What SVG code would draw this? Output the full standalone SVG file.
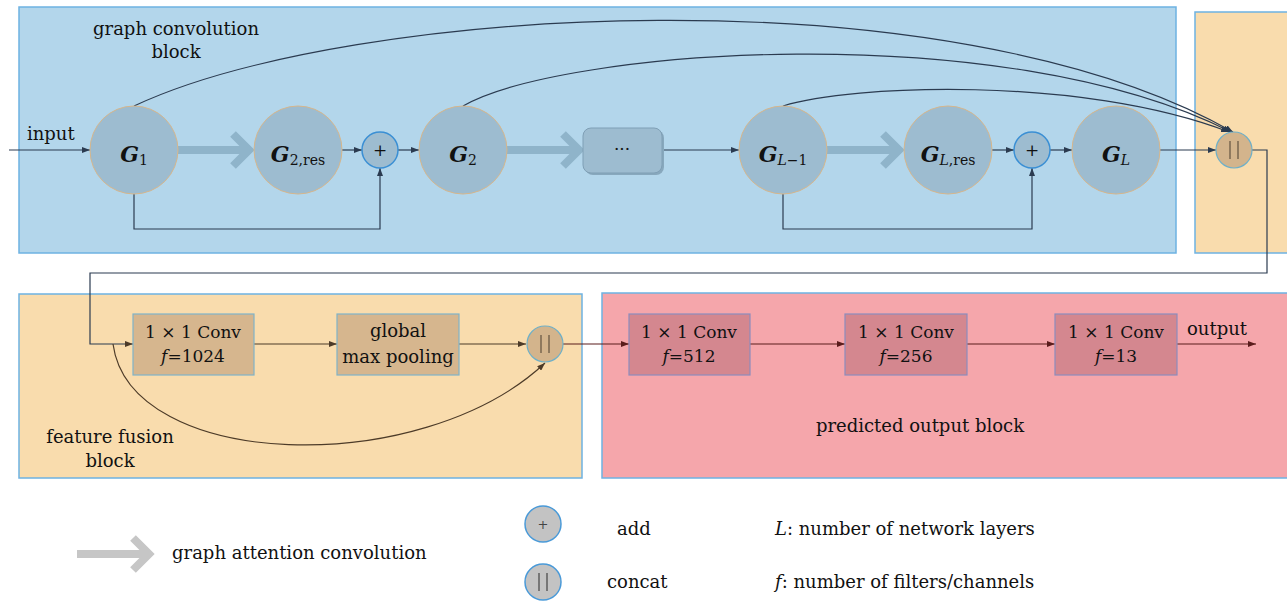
<svg xmlns="http://www.w3.org/2000/svg" width="1287" height="601" viewBox="0 0 1287 601">
<style>
text{font-family:"DejaVu Serif","Liberation Serif",serif;fill:#111;}
.t{font-size:18px;}
.c{font-size:17px;}
.gb{font-weight:bold;font-style:italic;font-size:22px;}
.sub{font-size:14px;font-weight:normal;font-style:normal;}
.it{font-style:italic;}
.node{fill:#9dbcd0;stroke:#d6b68c;stroke-width:1;}
.plus{fill:#9dbcd0;stroke:#3a8fd4;stroke-width:1.5;}
.gac{fill:none;stroke:#8fb4ca;stroke-width:8;}
.ln{fill:none;stroke:#2b3b50;stroke-width:1.2;}
.lo{fill:none;stroke:#4d3b28;stroke-width:1.2;}
.lp{fill:none;stroke:#5a1c1c;stroke-width:1.2;}
.obox{fill:#d6b68e;stroke:#7fb3c8;stroke-width:1.2;}
.pbox{fill:#d4878f;stroke:#8c8cbc;stroke-width:1.2;}
.cat{fill:#d3b48c;stroke:#6fb0c8;stroke-width:1.2;}
.bar{stroke:#6b5a45;stroke-width:1.3;}
.lgc{fill:#c3c3c3;stroke:#4a9ad8;stroke-width:1.5;}
</style>
<defs>
<marker id="an" markerUnits="userSpaceOnUse" markerWidth="8" markerHeight="6" refX="8" refY="3" orient="auto"><path d="M0,0 L8,3 L0,6 z" fill="#2b3b50"/></marker>
<marker id="ao" markerUnits="userSpaceOnUse" markerWidth="8" markerHeight="6" refX="8" refY="3" orient="auto"><path d="M0,0 L8,3 L0,6 z" fill="#4d3b28"/></marker>
<marker id="ap" markerUnits="userSpaceOnUse" markerWidth="8" markerHeight="6" refX="8" refY="3" orient="auto"><path d="M0,0 L8,3 L0,6 z" fill="#5a1c1c"/></marker>
</defs>

<!-- blocks -->
<g id="graph-convolution-block">
<rect x="19" y="7" width="1157" height="246" fill="#b3d6eb" stroke="#6eb2e2" stroke-width="1.5"/>
<text class="t" x="176" y="35" text-anchor="middle">graph convolution</text>
<text class="t" x="176" y="58" text-anchor="middle">block</text>
</g>
<g id="concat-block">
<rect x="1195" y="12" width="100" height="241" fill="#f9dcad" stroke="#6eb2e2" stroke-width="1.5"/>
</g>
<g id="feature-fusion-block">
<rect x="19" y="294" width="563" height="184" fill="#f9dcad" stroke="#6eb2e2" stroke-width="1.5"/>
<text class="t" x="110" y="443" text-anchor="middle">feature fusion</text>
<text class="t" x="110" y="467" text-anchor="middle">block</text>
</g>
<g id="predicted-output-block">
<rect x="602" y="293" width="690" height="185" fill="#f5a6ab" stroke="#6eb2e2" stroke-width="1.5"/>
<text class="t" x="920" y="432" text-anchor="middle">predicted output block</text>
</g>

<!-- connectors -->
<g id="connectors">
<path class="ln" d="M9,150 H90" marker-end="url(#an)"/>
<path class="ln" d="M342,150 H362" marker-end="url(#an)"/>
<path class="ln" d="M398,150 H419" marker-end="url(#an)"/>
<path class="ln" d="M662,150 H739" marker-end="url(#an)"/>
<path class="ln" d="M992,150 H1014" marker-end="url(#an)"/>
<path class="ln" d="M1050,150 H1072" marker-end="url(#an)"/>
<path class="ln" d="M1160,150 H1216" marker-end="url(#an)"/>
<path class="ln" d="M134,194 V229 H380 V168" marker-end="url(#an)"/>
<path class="ln" d="M783,194 V229 H1032 V168" marker-end="url(#an)"/>
<path class="ln" d="M134,106 C350,5 950,-30 1233,132" marker-end="url(#an)"/>
<path class="ln" d="M463,106 C560,50 1000,15 1231,132" marker-end="url(#an)"/>
<path class="ln" d="M783,106 C850,85 1080,75 1229,132" marker-end="url(#an)"/>
<path class="ln" d="M1252,150 H1267 V273 H90 V344 H133" marker-end="url(#ao)"/>
<path class="lo" d="M254,344 H337" marker-end="url(#ao)"/>
<path class="lo" d="M459,344 H526" marker-end="url(#ao)"/>
<path class="lo" d="M113,344 C130,470 420,480 545,363" marker-end="url(#ao)"/>
<path class="lp" d="M563,344 H629" marker-end="url(#ap)"/>
<path class="lp" d="M750,344 H845" marker-end="url(#ap)"/>
<path class="lp" d="M967,344 H1055" marker-end="url(#ap)"/>
<path class="lp" d="M1177,344 H1256" marker-end="url(#ap)"/>
<path class="gac" d="M178,150 H246 M233,134 L249,150 L233,166"/>
<path class="gac" d="M506,150 H576 M563,134 L579,150 L563,166"/>
<path class="gac" d="M827,150 H896 M883,134 L899,150 L883,166"/>
</g>
<text class="t" x="27" y="140">input</text>

<!-- nodes -->
<g id="G1">
<circle class="node" cx="134" cy="150" r="44"/>
<text x="134" y="162" text-anchor="middle"><tspan class="gb">G</tspan><tspan class="sub" dy="3">1</tspan></text>
</g>
<g id="G2res">
<circle class="node" cx="298" cy="150" r="44"/>
<text x="298" y="162" text-anchor="middle"><tspan class="gb">G</tspan><tspan class="sub" dy="3">2,res</tspan></text>
</g>
<g id="add1">
<circle class="plus" cx="380" cy="150" r="18"/>
<text class="c" x="380" y="156" text-anchor="middle">+</text>
</g>
<g id="G2">
<circle class="node" cx="463" cy="150" r="44"/>
<text x="463" y="162" text-anchor="middle"><tspan class="gb">G</tspan><tspan class="sub" dy="3">2</tspan></text>
</g>
<g id="dots">
<rect x="585" y="130" width="79" height="45" rx="8" fill="#88a8bd"/>
<rect x="583" y="128" width="79" height="45" rx="8" fill="#9dbcd0" stroke="#7f9fb5" stroke-width="1"/>
<text class="c" x="622" y="155" text-anchor="middle">···</text>
</g>
<g id="GL-1">
<circle class="node" cx="783" cy="150" r="44"/>
<text x="783" y="162" text-anchor="middle"><tspan class="gb">G</tspan><tspan class="sub it" dy="3">L</tspan><tspan class="sub">−1</tspan></text>
</g>
<g id="GLres">
<circle class="node" cx="948" cy="150" r="44"/>
<text x="948" y="162" text-anchor="middle"><tspan class="gb">G</tspan><tspan class="sub it" dy="3">L</tspan><tspan class="sub">,res</tspan></text>
</g>
<g id="add2">
<circle class="plus" cx="1032" cy="150" r="18"/>
<text class="c" x="1032" y="156" text-anchor="middle">+</text>
</g>
<g id="GL">
<circle class="node" cx="1116" cy="150" r="44"/>
<text x="1116" y="162" text-anchor="middle"><tspan class="gb">G</tspan><tspan class="sub it" dy="3">L</tspan></text>
</g>
<g id="concat1">
<circle class="cat" cx="1234" cy="150" r="18"/>
<path class="bar" d="M1230,141 V159 M1238,141 V159"/>
</g>
<g id="conv1024">
<rect class="obox" x="133" y="314" width="121" height="61"/>
<text class="c" x="193" y="338" text-anchor="middle">1 × 1 Conv</text>
<text class="c" x="193" y="362" text-anchor="middle"><tspan class="it">f</tspan>=1024</text>
</g>
<g id="gmp">
<rect class="obox" x="337" y="314" width="122" height="61"/>
<text class="t" x="398" y="337" text-anchor="middle">global</text>
<text class="t" x="398" y="363" text-anchor="middle">max pooling</text>
</g>
<g id="concat2">
<circle class="cat" cx="545" cy="344" r="18"/>
<path class="bar" d="M541,335 V353 M549,335 V353"/>
</g>
<g id="conv512">
<rect class="pbox" x="629" y="314" width="121" height="61"/>
<text class="c" x="689" y="338" text-anchor="middle">1 × 1 Conv</text>
<text class="c" x="689" y="362" text-anchor="middle"><tspan class="it">f</tspan>=512</text>
</g>
<g id="conv256">
<rect class="pbox" x="845" y="314" width="122" height="61"/>
<text class="c" x="906" y="338" text-anchor="middle">1 × 1 Conv</text>
<text class="c" x="906" y="362" text-anchor="middle"><tspan class="it">f</tspan>=256</text>
</g>
<g id="conv13">
<rect class="pbox" x="1055" y="314" width="122" height="61"/>
<text class="c" x="1116" y="338" text-anchor="middle">1 × 1 Conv</text>
<text class="c" x="1116" y="362" text-anchor="middle"><tspan class="it">f</tspan>=13</text>
</g>
<text class="t" x="1187" y="335">output</text>

<!-- legend -->
<g id="legend">
<path d="M77,554 H146 M133,538 L149,554 L133,570" fill="none" stroke="#c6c6c6" stroke-width="8"/>
<text class="t" x="172" y="559">graph attention convolution</text>
<circle class="lgc" cx="543" cy="524" r="18"/>
<text x="543" y="529" text-anchor="middle" style="font-size:13px;fill:#444">+</text>
<circle class="lgc" cx="543" cy="582" r="18"/>
<path d="M539,573 V591 M547,573 V591" stroke="#444" stroke-width="1.2"/>
<text class="t" x="617" y="535">add</text>
<text class="t" x="607" y="588">concat</text>
<text class="t" x="775" y="535"><tspan class="it">L</tspan>: number of network layers</text>
<text class="t" x="775" y="588"><tspan class="it">f</tspan>: number of filters/channels</text>
</g>
</svg>
